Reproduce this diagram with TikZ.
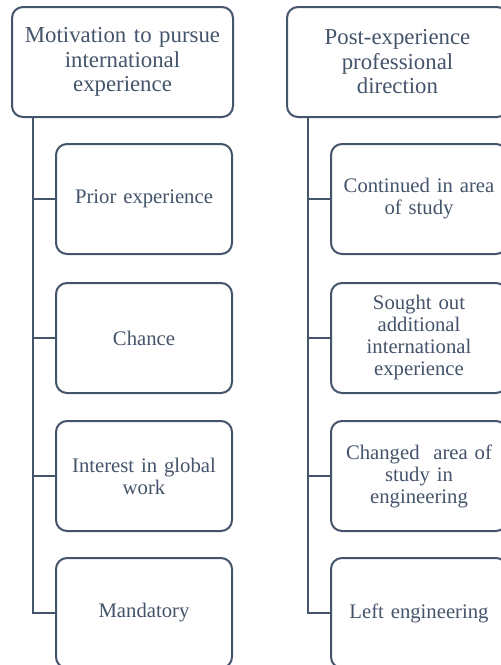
\documentclass[tikz,border=0pt]{standalone}
\usepackage{fontspec}
\setmainfont{Liberation Serif}
\definecolor{slate}{HTML}{44546A}
\begin{document}
\begin{tikzpicture}[x=1pt,y=-1pt,
  headbox/.style={draw=slate, line width=2pt, rounded corners=11pt, fill=white,
    minimum width=221pt, minimum height=110pt, text width=205pt, align=center,
    text=slate, font=\fontsize{22.8}{24.5}\selectfont, inner sep=0pt},
  itembox/.style={draw=slate, line width=2pt, rounded corners=11pt, fill=white,
    minimum width=176pt, minimum height=110pt, text width=165pt, align=center,
    text=slate, font=\fontsize{20.7}{22}\selectfont, inner sep=0pt},
  link/.style={draw=slate, line width=2.6pt}]
\clip (0,0) rectangle (501,665);

% left column
\node[headbox] (lhead) at (122.5,62) {Motivation to pursue\\international\\experience};
\node[itembox] (l1) at (144,199) {Prior experience};
\node[itembox] (l2) at (144,338) {Chance};
\node[itembox] (l3) at (144,476) {Interest in global\\work};
\node[itembox] (l4) at (144,613) {Mandatory};

% right column
\node[headbox] (rhead) at (397.5,62) {Post-experience\\professional\\direction};
\node[itembox] (r1) at (419,199) {Continued in area\\of study};
\node[itembox] (r2) at (419,338) {Sought out\\additional\\international\\experience};
\node[itembox] (r3) at (419,476) {Changed~ area of\\study in\\engineering};
\node[itembox] (r4) at (419,613) {Left engineering};

% connectors from each heading down to its items
\foreach \c in {l1,l2,l3,l4}
  \draw[link] ([xshift=22pt]lhead.south west) |- (\c.west);
\foreach \c in {r1,r2,r3,r4}
  \draw[link] ([xshift=22pt]rhead.south west) |- (\c.west);
\end{tikzpicture}
\end{document}
